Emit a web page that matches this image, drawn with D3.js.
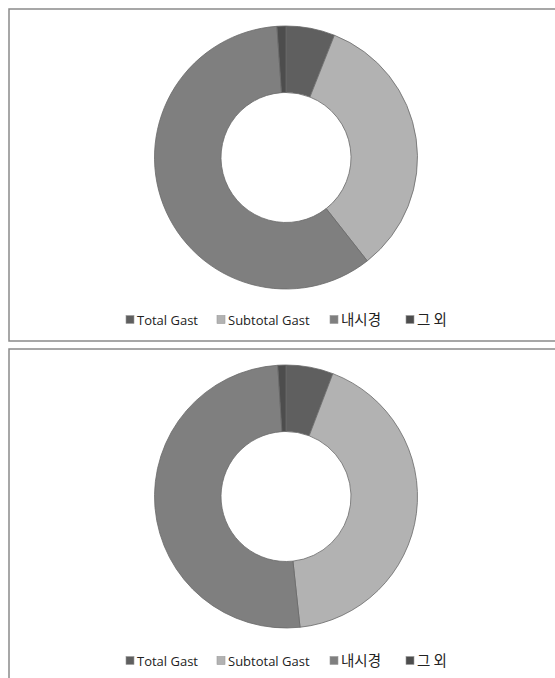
<!DOCTYPE html>
<html>
<head>
<meta charset="utf-8">
<script src="https://cdn.jsdelivr.net/npm/d3@7"></script>
<style>
  html, body { margin: 0; padding: 0; background: #fff; }
  svg { display: block; }
</style>
</head>
<body>
<svg id="chart" width="555" height="678"></svg>
<script>
// ---- data ----
const categories = ["Total Gast", "Subtotal Gast", "내시경", "그 외"];
const valuesTop = [6.0, 33.4, 59.5, 1.1];
const valuesBottom = [5.8, 42.5, 50.7, 1.0];
const colors = ["#5f5f5f", "#b2b2b2", "#7f7f7f", "#4d4d4d"];

const svg = d3.select("#chart");

const panels = [
  { values: valuesTop, y0: 9, y1: 341, cy: 157.5, legendY: 320 },
  { values: valuesBottom, y0: 349, y1: 700, cy: 496.5, legendY: 661 }
];

const color = d3.scaleOrdinal().domain(categories).range(colors);
const pie = d3.pie().sort(null).value(d => d.v);
const outerR = 131.5, innerR = 65;
const arc = d3.arc().innerRadius(innerR).outerRadius(outerR);
const cx = 286;

const legendX = [126, 217, 330, 406];
const isKorean = s => /[\uac00-\ud7af]/.test(s);

panels.forEach(p => {
  // frame
  svg.append("rect")
    .attr("x", 9).attr("y", p.y0)
    .attr("width", 600).attr("height", p.y1 - p.y0)
    .attr("fill", "#fff")
    .attr("stroke", "#8a8a8a").attr("stroke-width", 1.5);

  const data = categories.map((c, i) => ({ c, v: p.values[i] }));
  const g = svg.append("g").attr("transform", `translate(${cx},${p.cy})`);
  g.selectAll("path").data(pie(data)).enter().append("path")
    .attr("d", arc)
    .attr("fill", d => color(d.data.c))
    .attr("stroke", "#6a6a6a")
    .attr("stroke-width", 0.8);

  const lg = svg.append("g");
  categories.forEach((c, i) => {
    const x = legendX[i];
    lg.append("rect")
      .attr("x", x).attr("y", p.legendY - 4.5)
      .attr("width", 8).attr("height", 8)
      .attr("fill", color(c))
      .attr("stroke", "#9a9a9a").attr("stroke-width", 0.6);
    const kr = isKorean(c);
    lg.append("text")
      .attr("x", x + 11).attr("y", p.legendY + (kr ? 5 : 4.5))
      .attr("font-family", kr ? "'Noto Sans CJK KR', sans-serif" : "'Open Sans', 'Noto Sans', sans-serif")
      .attr("font-size", kr ? 14.5 : 13)
      .attr("fill", "#222")
      .text(c);
  });
});
</script>
</body>
</html>
